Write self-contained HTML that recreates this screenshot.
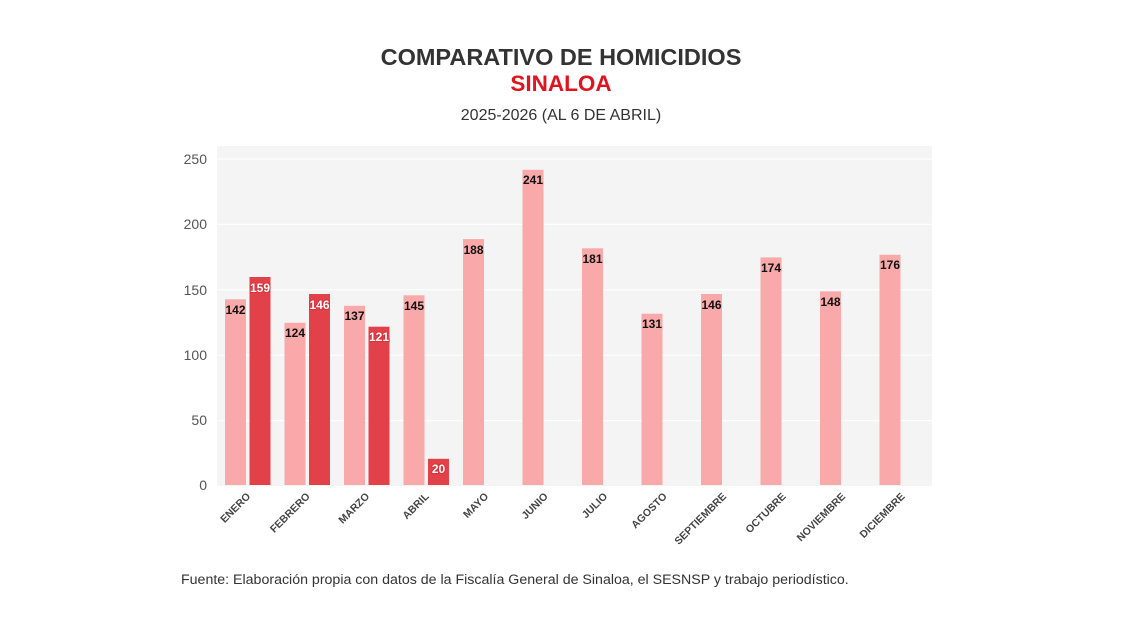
<!DOCTYPE html>
<html><head><meta charset="utf-8"><style>
body{margin:0;background:#fff}
svg{display:block;font-family:"Liberation Sans",sans-serif}
.lv{font-size:12px;font-weight:bold;fill:#111;text-anchor:middle;paint-order:stroke;stroke:#f9a9a9;stroke-width:2px}
.dv{font-size:12px;font-weight:bold;fill:#fff;text-anchor:middle;paint-order:stroke;stroke:#d8323c;stroke-width:2px}
.m{font-size:10.5px;font-weight:bold;fill:#444;text-anchor:end}
.y{font-size:14px;fill:#555;text-anchor:end}
</style></head><body>
<svg width="1122" height="630" viewBox="0 0 1122 630">
<rect width="1122" height="630" fill="#fff"/>
<text x="561" y="65" text-anchor="middle" font-size="23.5" font-weight="bold" fill="#333">COMPARATIVO DE HOMICIDIOS</text>
<text x="561" y="91" text-anchor="middle" font-size="22.5" font-weight="bold" fill="#e0141e">SINALOA</text>
<text x="561" y="120" text-anchor="middle" font-size="16" fill="#333">2025-2026 (AL 6 DE ABRIL)</text>
<rect x="217" y="146" width="715" height="340" fill="#f4f4f4"/>
<g stroke="#fff" stroke-width="1">
<line x1="217" x2="932" y1="159" y2="159"/><line x1="217" x2="932" y1="224.4" y2="224.4"/>
<line x1="217" x2="932" y1="289.8" y2="289.8"/><line x1="217" x2="932" y1="355.2" y2="355.2"/>
<line x1="217" x2="932" y1="420.6" y2="420.6"/>
</g>
<g class="y">
<text x="207" y="164">250</text><text x="207" y="229">200</text><text x="207" y="295">150</text>
<text x="207" y="360">100</text><text x="207" y="425">50</text><text x="207" y="490">0</text>
</g>
<g fill="#f9a9a9">
<rect x="225" y="299.3" width="21" height="185.7"/>
<rect x="284.5" y="322.8" width="21" height="162.2"/>
<rect x="344" y="305.8" width="21" height="179.2"/>
<rect x="403.5" y="295.3" width="21" height="189.7"/>
<rect x="463" y="239.1" width="21" height="245.9"/>
<rect x="522.5" y="169.8" width="21" height="315.2"/>
<rect x="582" y="248.3" width="21" height="236.7"/>
<rect x="641.5" y="313.7" width="21" height="171.3"/>
<rect x="701" y="294" width="21" height="191"/>
<rect x="760.5" y="257.4" width="21" height="227.6"/>
<rect x="820" y="291.4" width="21" height="193.6"/>
<rect x="879.5" y="254.8" width="21" height="230.2"/>
</g>
<g fill="#e3414a">
<rect x="249.5" y="277" width="21" height="208"/>
<rect x="309" y="294" width="21" height="191"/>
<rect x="368.5" y="326.7" width="21" height="158.3"/>
<rect x="428" y="458.8" width="21" height="26.2"/>
</g>
<g class="lv">
<text x="235.5" y="314">142</text><text x="295" y="337">124</text><text x="354.5" y="320">137</text>
<text x="414" y="310">145</text><text x="473.5" y="254">188</text><text x="533" y="184">241</text>
<text x="592.5" y="263">181</text><text x="652" y="328">131</text><text x="711.5" y="309">146</text>
<text x="771" y="272">174</text><text x="830.5" y="306">148</text><text x="890" y="269">176</text>
</g>
<g class="dv">
<text x="260" y="292">159</text><text x="319.5" y="309">146</text><text x="379" y="341">121</text><text x="438.5" y="473">20</text>
</g>
<g class="m">
<text transform="translate(251,497) rotate(-45)">ENERO</text>
<text transform="translate(310.5,497) rotate(-45)">FEBRERO</text>
<text transform="translate(370,497) rotate(-45)">MARZO</text>
<text transform="translate(429.5,497) rotate(-45)">ABRIL</text>
<text transform="translate(489,497) rotate(-45)">MAYO</text>
<text transform="translate(548.5,497) rotate(-45)">JUNIO</text>
<text transform="translate(608,497) rotate(-45)">JULIO</text>
<text transform="translate(667.5,497) rotate(-45)">AGOSTO</text>
<text transform="translate(727,497) rotate(-45)">SEPTIEMBRE</text>
<text transform="translate(786.5,497) rotate(-45)">OCTUBRE</text>
<text transform="translate(846,497) rotate(-45)">NOVIEMBRE</text>
<text transform="translate(905.5,497) rotate(-45)">DICIEMBRE</text>
</g>
<text x="181" y="584" font-size="14.2" fill="#333">Fuente: Elaboración propia con datos de la Fiscalía General de Sinaloa, el SESNSP y trabajo periodístico.</text>
</svg>
</body></html>
